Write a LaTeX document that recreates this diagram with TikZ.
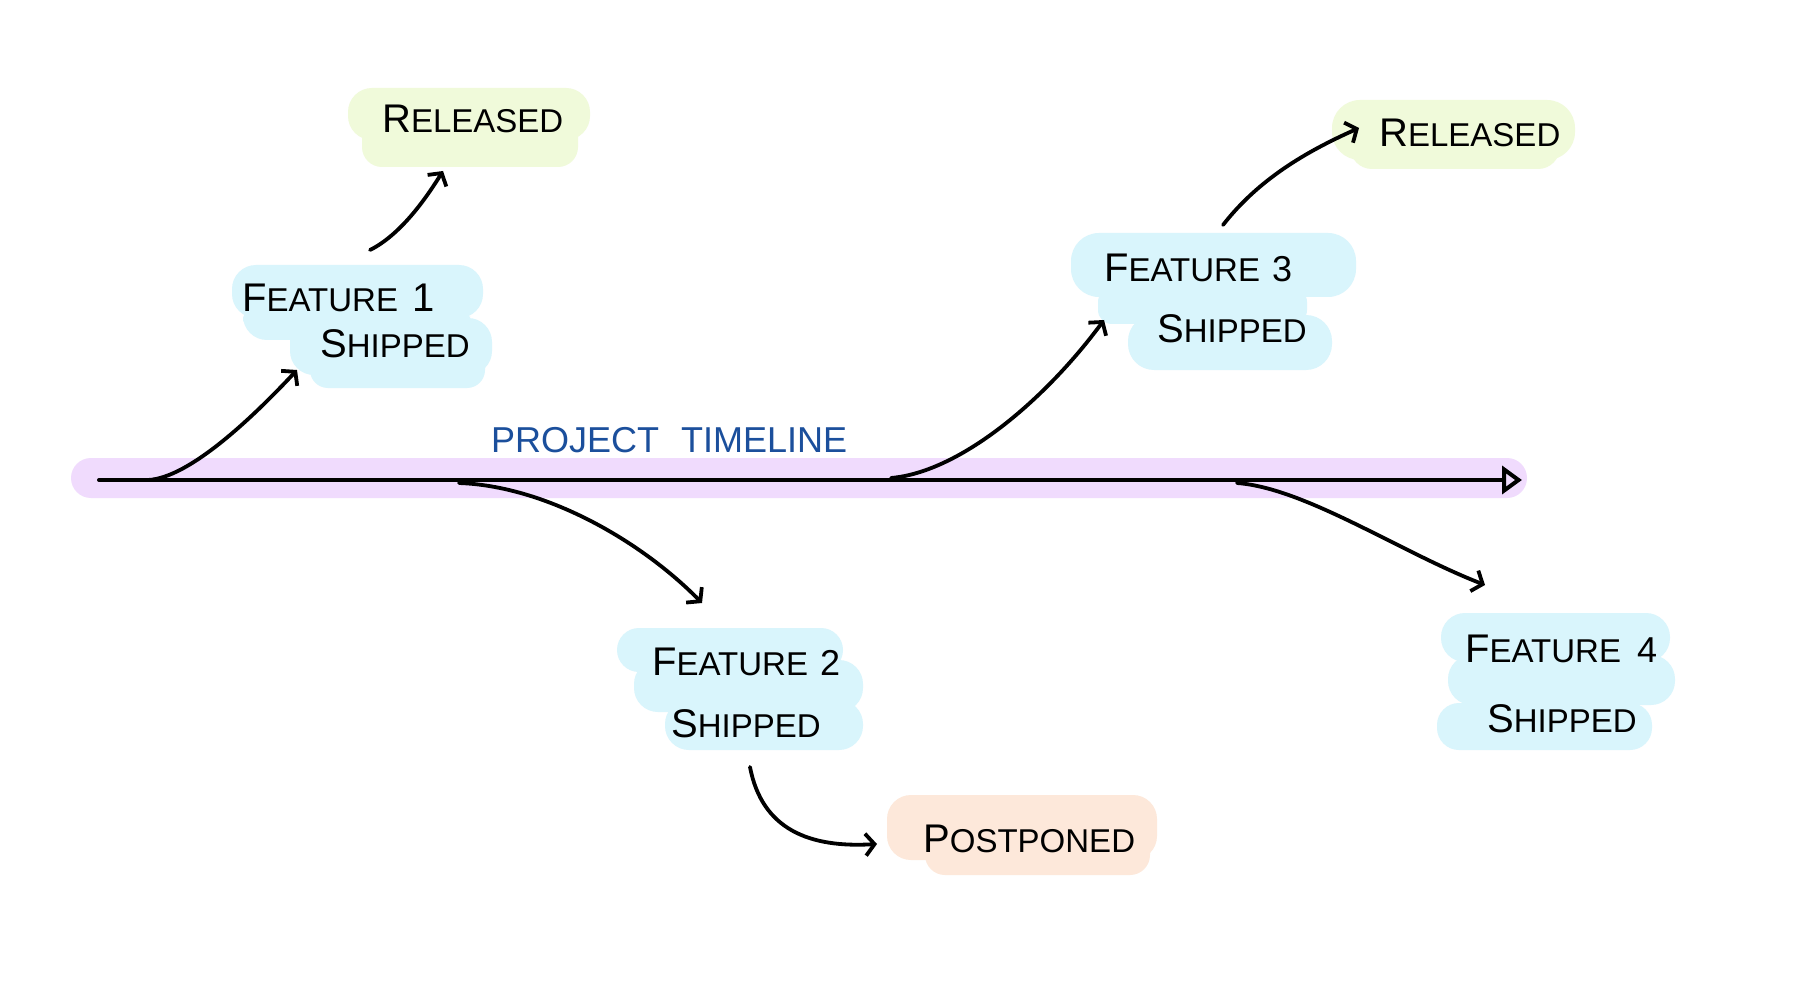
\documentclass[tikz,border=0pt]{standalone}
\usepackage{fontspec}
\setmainfont{Liberation Sans}
\usetikzlibrary{arrows.meta}
\definecolor{bandc}{RGB}{240,219,253}
\definecolor{blueblob}{RGB}{217,245,252}
\definecolor{greenblob}{RGB}{240,250,218}
\definecolor{peachblob}{RGB}{253,232,218}
\definecolor{titleblue}{RGB}{27,79,156}
\newcommand\capword[2]{{\fontsize{40}{40}\selectfont #1}{\fontsize{33}{33}\selectfont #2}}
\begin{document}
\begin{tikzpicture}[x=1pt,y=-1pt,
  txt/.style={inner sep=0pt, anchor=base west},
  conn/.style={line width=3.8pt, line cap=round, -{Straight Barb[length=9pt,width=22pt,line width=3.8pt]}},
  blob/.style={rounded corners=24pt}]
\useasboundingbox (0,0) rectangle (1794,1000);
\fill[white] (0,0) rectangle (1794,1000);

% timeline band
\fill[bandc, rounded corners=20pt] (71,458) rectangle (1527,498);

% blobs
% feature 1
\fill[blueblob, blob] (232,265) rectangle (483,318);
\fill[blueblob, blob] (243,298) rectangle (470,340);
\fill[blueblob, blob] (290,318) rectangle (492,375);
\fill[blueblob, rounded corners=18pt] (310,350) rectangle (485,388);
% released 1
\fill[greenblob, blob] (348,88) rectangle (590,140);
\fill[greenblob, rounded corners=20pt] (362,115) rectangle (578,167);
% feature 2
\fill[blueblob, rounded corners=22pt] (617,628) rectangle (843,672);
\fill[blueblob, blob] (634,660) rectangle (863,712);
\fill[blueblob, blob] (665,700) rectangle (863,750);
% postponed
\fill[peachblob, blob] (887,795) rectangle (1157,860);
\fill[peachblob, rounded corners=20pt] (925,830) rectangle (1150,875);
% feature 3
\fill[blueblob, rounded corners=28pt] (1071,233) rectangle (1356,297);
\fill[blueblob, rounded corners=14pt] (1098,288) rectangle (1307,324);
\fill[blueblob, rounded corners=26pt] (1128,315) rectangle (1332,370);
% released 2
\fill[greenblob, rounded corners=28pt] (1332,100) rectangle (1575,160);
\fill[greenblob, rounded corners=22pt] (1350,110) rectangle (1560,169);
% feature 4
\fill[blueblob, blob] (1441,613) rectangle (1670,662);
\fill[blueblob, blob] (1448,655) rectangle (1675,705);
\fill[blueblob, rounded corners=22pt] (1437,703) rectangle (1652,750);

% texts
\node[txt, text=titleblue] (title) at (491,452) {\fontsize{36}{36}\selectfont PROJECT\hspace{22pt}TIMELINE};
\node[txt] (f1a) at (242,312) {\capword{F}{EATURE}\hspace{14pt}{\fontsize{40}{40}\selectfont 1}};
\node[txt] (f1b) at (320,357) {\capword{S}{HIPPED}};
\node[txt] (r1) at (382,133) {\capword{R}{ELEASED}};
\node[txt] (f2a) at (652,675) {\capword{F}{EATURE}\hspace{12pt}{\fontsize{36}{36}\selectfont 2}};
\node[txt] (f2b) at (671,737) {\capword{S}{HIPPED}};
\node[txt] (pp) at (923,852) {\capword{P}{OSTPONED}};
\node[txt] (f3a) at (1104,282) {\capword{F}{EATURE}\hspace{12pt}{\fontsize{36}{36}\selectfont 3}};
\node[txt] (f3b) at (1157,342) {\capword{S}{HIPPED}};
\node[txt] (r2) at (1379,147) {\capword{R}{ELEASED}};
\node[txt] (f4a) at (1465,662) {\capword{F}{EATURE}\hspace{16pt}{\fontsize{36}{36}\selectfont 4}};
\node[txt] (f4b) at (1487,732) {\capword{S}{HIPPED}};

% connector endpoints
\coordinate (tlstart) at (99,480);
\coordinate (tlend) at (1522,480);
\coordinate (s1) at (148,480);
\coordinate (e1) at (297,370);
\coordinate (s1r) at (370,250);
\coordinate (e1r) at (443,171);
\coordinate (s2) at (459,483);
\coordinate (e2) at (702,603);
\coordinate (s2p) at (750,767);
\coordinate (e2p) at (877,844);
\coordinate (s3) at (891,478);
\coordinate (e3) at (1104,320);
\coordinate (s3r) at (1223,225);
\coordinate (e3r) at (1359,128);
\coordinate (s4) at (1237,483);
\coordinate (e4) at (1485,585);

% timeline
\draw[line width=4pt, line cap=round, -{Triangle[open, length=20pt, width=28pt, line width=4pt]}] (tlstart) -- (tlend);

% connectors
\draw[conn] (s1) .. controls (190,478) and (255,415) .. (e1);
\draw[conn] (s1r) .. controls (400,235) and (425,200) .. (e1r);
\draw[conn] (s2) .. controls (545,486) and (640,540) .. (e2);
\draw[conn] (s2p) .. controls (762,830) and (810,848) .. (e2p);
\draw[conn] (s3) .. controls (960,472) and (1045,400) .. (e3);
\draw[conn] (s3r) .. controls (1258,180) and (1305,152) .. (e3r);
\draw[conn] (s4) .. controls (1305,488) and (1400,552) .. (e4);
\end{tikzpicture}
\end{document}
